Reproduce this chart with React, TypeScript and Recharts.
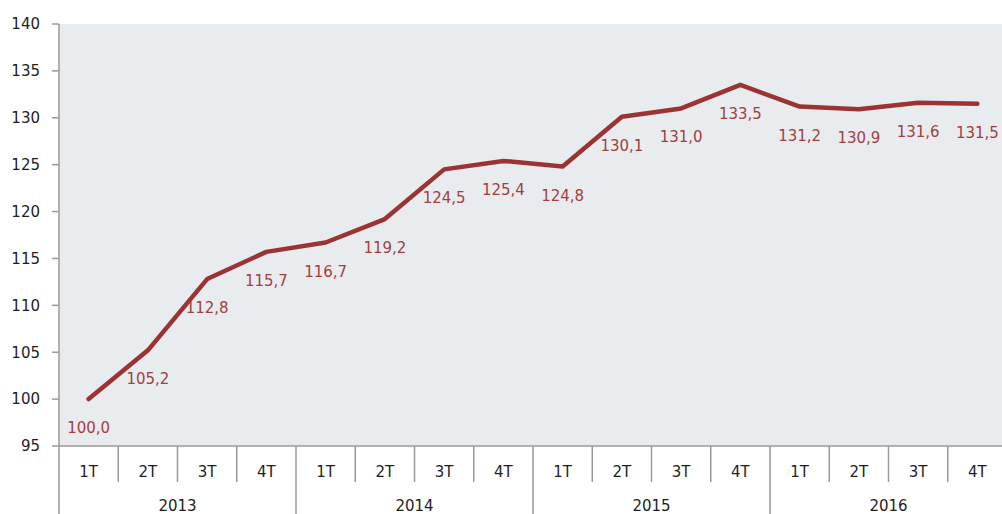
import { LineChart, Line, XAxis, YAxis, CartesianGrid, LabelList } from 'recharts';

const YEARS = ['2013', '2014', '2015', '2016'];
const QUARTERS = ['1T', '2T', '3T', '4T'];
const VALUES = [
    100.0, 105.2, 112.8, 115.7,
    116.7, 119.2, 124.5, 125.4,
    124.8, 130.1, 131.0, 133.5,
    131.2, 130.9, 131.6, 131.5,
];
const Y_TICKS = [95, 100, 105, 110, 115, 120, 125, 130, 135, 140];

const data = VALUES.map((value, i) => ({
    quarter: QUARTERS[i % 4],
    year: YEARS[Math.floor(i / 4)],
    value,
}));

const CHART_W = 1007;
const CHART_H = 514;
const Y_AXIS_W = 59;
const AXIS_H = 68;
const CELL = (CHART_W - Y_AXIS_W) / data.length;

const FONT = '"DejaVu Sans", Verdana, sans-serif';
const FONT_SIZE = 15;
const AXIS_COLOR = '#9a9a9a';
const TEXT_COLOR = '#1e1e1e';
const LINE_COLOR = '#9b3333';
const LABEL_COLOR = '#a2403e';

const fmt = (v: number) => v.toFixed(1).replace('.', ',');

// two-level category tick: quarter, separators and year under it
function QuarterTick(props: any) {
    const { x, y, payload } = props;
    const i = payload.index ?? props.index;
    const yearEnd = i % 4 === 3;
    return (
        <g>
            {i === 0 && (
                <line x1={x - CELL / 2} x2={x - CELL / 2} y1={y} y2={y + AXIS_H} stroke={AXIS_COLOR} strokeWidth={1.5} />
            )}
            <line
                x1={x + CELL / 2}
                x2={x + CELL / 2}
                y1={y}
                y2={yearEnd ? y + AXIS_H : y + 36}
                stroke={AXIS_COLOR}
                strokeWidth={1.5}
            />
            <text x={x} y={y + 31} textAnchor="middle" fill={TEXT_COLOR} fontSize={FONT_SIZE} fontFamily={FONT}>
                {payload.value}
            </text>
            {i % 4 === 1 && (
                <text x={x + CELL / 2} y={y + 65} textAnchor="middle" fill={TEXT_COLOR} fontSize={FONT_SIZE} fontFamily={FONT}>
                    {data[i].year}
                </text>
            )}
        </g>
    );
}

function ValueLabel(props: any) {
    const { x, y, value } = props;
    return (
        <text x={x} y={y + 34} textAnchor="middle" fill={LABEL_COLOR} fontSize={FONT_SIZE} fontFamily={FONT}>
            {fmt(value)}
        </text>
    );
}

export default function App() {
    return (
        <div style={{ position: 'absolute', left: 0, top: 0, width: 1002, height: CHART_H, overflow: 'hidden', background: '#fff' }}>
            <LineChart
                width={CHART_W}
                height={CHART_H}
                data={data}
                margin={{ top: 24, right: 0, left: 0, bottom: 0 }}
            >
                <CartesianGrid fill="#e9ecef" horizontal={false} vertical={false} />
                <XAxis
                    dataKey="quarter"
                    height={AXIS_H}
                    interval={0}
                    padding={{ left: CELL / 2, right: CELL / 2 }}
                    tickLine={false}
                    tickSize={0}
                    tickMargin={0}
                    axisLine={{ stroke: AXIS_COLOR, strokeWidth: 1.5 }}
                    tick={<QuarterTick />}
                />
                <YAxis
                    width={Y_AXIS_W}
                    domain={[95, 140]}
                    ticks={Y_TICKS}
                    interval={0}
                    tickSize={7}
                    tickMargin={12}
                    axisLine={{ stroke: AXIS_COLOR, strokeWidth: 1.5 }}
                    tickLine={{ stroke: AXIS_COLOR, strokeWidth: 1.5 }}
                    tick={{ fill: TEXT_COLOR, fontSize: FONT_SIZE, fontFamily: FONT }}
                />
                <Line
                    type="linear"
                    dataKey="value"
                    stroke={LINE_COLOR}
                    strokeWidth={4.5}
                    strokeLinejoin="round"
                    strokeLinecap="round"
                    dot={false}
                    activeDot={false}
                    isAnimationActive={false}
                >
                    <LabelList dataKey="value" content={<ValueLabel />} />
                </Line>
            </LineChart>
        </div>
    );
}
